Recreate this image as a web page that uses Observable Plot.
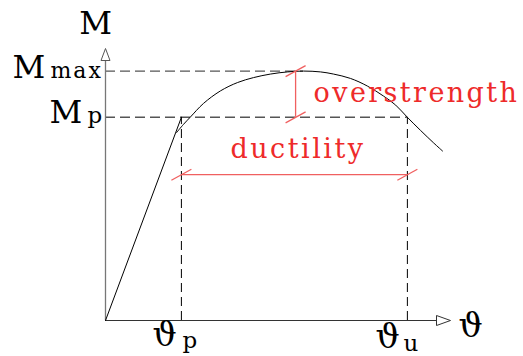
<!DOCTYPE html>
<html>
<head>
<meta charset="utf-8">
<script src="https://cdn.jsdelivr.net/npm/d3@7"></script>
<script src="https://cdn.jsdelivr.net/npm/@observablehq/plot@0.6"></script>
<style>
  body { margin: 0; background: #fff; }
  #chart svg { display: block; background: #fff; }
</style>
</head>
<body>
<div id="chart"></div>
<script>
// Moment–rotation response of a steel member, in normalised units.
const thetaP = 2.2;     // rotation at first reaching the plastic moment
const thetaU = 8.75;    // ultimate rotation
const mP = 7.47;        // plastic moment
const mMax = 9.17;      // peak moment
const thetaPeak = 5.74; // rotation at the peak moment
const thetaOver = 5.51; // where the overstrength dimension is drawn
const mDuct = 5.36;     // height of the ductility dimension line

// Elastic branch (origin to the plastic point)
const elasticTheta = [0, thetaP];
const elasticM = [0, mP];

// Actual response after yielding
const curveTheta = [2.06, 2.26, 2.46, 2.84, 3.33, 3.83, 4.29, 4.78, 5.28, 5.74, 6.23, 6.61, 7.10, 7.59, 8.06, 8.41, 8.75, 9.13, 9.51, 9.77];
const curveM     = [6.91, 7.21, 7.48, 7.98, 8.44, 8.75, 8.93, 9.06, 9.14, 9.17, 9.14, 9.06, 8.90, 8.62, 8.25, 7.92, 7.47, 6.99, 6.53, 6.23];

// Labels
const axisM = "M";
const axisTheta = "\u03d1";
const subMax = "max";
const subP = "p";
const subU = "u";
const dimOver = "overstrength";
const dimDuct = "ductility";

const elastic = elasticTheta.map((t, i) => ({t, m: elasticM[i]}));
const curve = curveTheta.map((t, i) => ({t, m: curveM[i]}));

const RED = "#ee2a2a";
const DIM = "#f06060";
const SERIF = "'DejaVu Serif', serif";

// Open arrow heads, tip at the origin, pointing up
const headY = {draw(c) { c.moveTo(0, 0); c.lineTo(4.5, 12); c.lineTo(-4.5, 12); c.closePath(); }};
const headX = {draw(c) { c.moveTo(0, 0); c.lineTo(5, 14); c.lineTo(-5, 14); c.closePath(); }};
// Architectural tick for dimension lines
const slash = {draw(c) { c.moveTo(-10, 5.5); c.lineTo(10, -5.5); }};

const one = [0];
const label = (text, x, y, opts) =>
  Plot.text(one, {x: () => x, y: () => y, text: () => text, lineAnchor: "bottom", textAnchor: "start", ...opts});

const chart = Plot.plot({
  width: 523,
  height: 356,
  marginLeft: 105,
  marginRight: 73,
  marginTop: 48,
  marginBottom: 36,
  x: {domain: [0, 10], axis: null},
  y: {domain: [0, 10], axis: null},
  style: {background: "#fff", overflow: "visible", fontFamily: SERIF},
  marks: [
    // guide lines
    Plot.ruleY(one, {y: () => mMax, x1: 0, x2: () => thetaPeak, stroke: "#555", strokeWidth: 1.4, strokeDasharray: "10,5"}),
    Plot.ruleY(one, {y: () => mP, x1: 0, x2: () => thetaU, stroke: "#555", strokeWidth: 1.4, strokeDasharray: "10,5"}),
    Plot.ruleX(one, {x: () => thetaP, y1: 0, y2: () => mP, stroke: "#000", strokeWidth: 1, strokeDasharray: "9,5"}),
    Plot.ruleX(one, {x: () => thetaU, y1: 0, y2: () => mP, stroke: "#000", strokeWidth: 1, strokeDasharray: "9,5"}),

    // axes
    Plot.ruleX(one, {x: 0, y1: 0, y2: 9.6, stroke: "#777", strokeWidth: 1.3}),
    Plot.ruleY(one, {y: 0, x1: 0, x2: 9.6, stroke: "#333", strokeWidth: 1.2}),
    Plot.dot(one, {x: 0, y: 10, symbol: headY, r: 5, fill: "#fff", stroke: "#555", strokeWidth: 1}),
    Plot.dot(one, {x: 10, y: 0, symbol: headX, r: 5, rotate: 90, fill: "#fff", stroke: "#333", strokeWidth: 1}),

    // response
    Plot.line(elastic, {x: "t", y: "m", stroke: "#000", strokeWidth: 1}),
    Plot.line(curve, {x: "t", y: "m", curve: "catmull-rom", stroke: "#000", strokeWidth: 1}),

    // overstrength dimension
    Plot.ruleX(one, {x: () => thetaOver, y1: () => mP, y2: () => mMax, stroke: DIM, strokeWidth: 1.3}),
    Plot.dot([mP, mMax], {x: () => thetaOver, y: d => d, symbol: slash, r: 5, fill: "none", stroke: DIM, strokeWidth: 1.3}),
    // ductility dimension
    Plot.ruleY(one, {y: () => mDuct, x1: () => thetaP, x2: () => thetaU, stroke: DIM, strokeWidth: 1.3}),
    Plot.dot([thetaP, thetaU], {x: d => d, y: () => mDuct, symbol: slash, r: 5, fill: "none", stroke: DIM, strokeWidth: 1.3}),

    // labels
    label(dimOver, thetaOver, mP, {dx: 18, dy: -15, fill: RED, fontSize: 27}),
    label(dimDuct, thetaP, mDuct, {dx: 49, dy: -17, fill: RED, fontSize: 27}),

    label(axisM, 0, 10, {dx: -10, dy: -15, fontSize: 32, textAnchor: "middle"}),
    label(axisM, 0, mMax, {dx: -93, dy: 7, fontSize: 32}),
    label(subMax, 0, mMax, {dx: -55, dy: 7, fontSize: 22}),
    label(axisM, 0, mP, {dx: -56, dy: 6, fontSize: 32}),
    label(subP, 0, mP, {dx: -18, dy: 6, fontSize: 23}),

    label(axisTheta, thetaP, 0, {dx: -29, dy: 25, fontSize: 34}),
    label(subP, thetaP, 0, {dx: 1, dy: 27, fontSize: 23}),
    label(axisTheta, thetaU, 0, {dx: -32, dy: 27, fontSize: 34}),
    label(subU, thetaU, 0, {dx: -4, dy: 30, fontSize: 23}),
    label(axisTheta, 10, 0, {dx: 8, dy: 16, fontSize: 34})
  ]
});

// Serif lettering throughout; spaced lettering for the dimension words and "max"
const spacing = {[dimOver]: "2.4px", [dimDuct]: "2.5px", [subMax]: "2px"};
d3.select(chart).selectAll("text").each(function() {
  this.style.fontFamily = SERIF;
  const s = spacing[this.textContent];
  if (s) this.style.letterSpacing = s;
});

document.getElementById("chart").append(chart);
</script>
</body>
</html>
